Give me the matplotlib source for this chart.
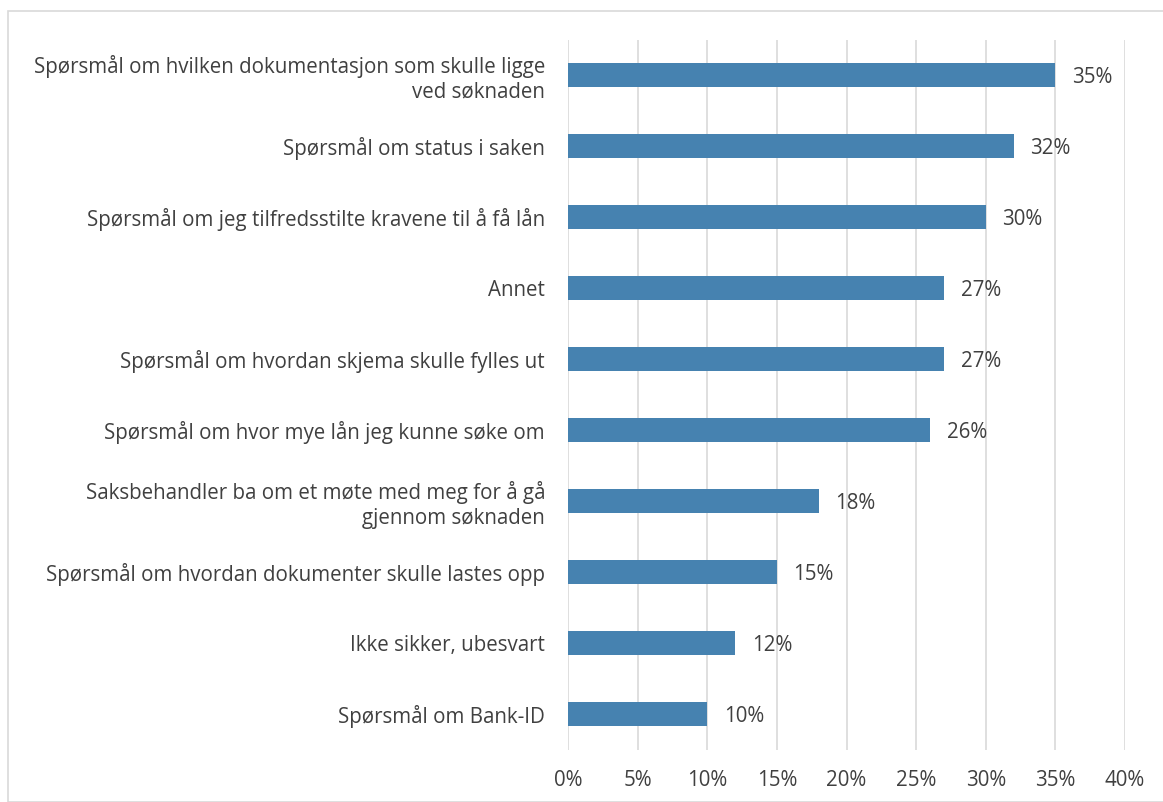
import matplotlib
matplotlib.use("Agg")
import matplotlib.pyplot as plt
from matplotlib.patches import Rectangle
from matplotlib.ticker import FuncFormatter

categories = [
    "Spørsmål om hvilken dokumentasjon som skulle ligge\nved søknaden",
    "Spørsmål om status i saken",
    "Spørsmål om jeg tilfredsstilte kravene til å få lån",
    "Annet",
    "Spørsmål om hvordan skjema skulle fylles ut",
    "Spørsmål om hvor mye lån jeg kunne søke om",
    "Saksbehandler ba om et møte med meg for å gå\ngjennom søknaden",
    "Spørsmål om hvordan dokumenter skulle lastes opp",
    "Ikke sikker, ubesvart",
    "Spørsmål om Bank-ID",
]
values = [35, 32, 30, 27, 27, 26, 18, 15, 12, 10]
xticks = [0, 5, 10, 15, 20, 25, 30, 35, 40]

plt.rcParams['font.family'] = ['Open Sans', 'DejaVu Sans']
text_color = "#404040"
bar_color = "#4682B0"
fs = 14.8

W, H = 1163, 802
fig = plt.figure(figsize=(W / 100, H / 100), dpi=100)
fig.patches.append(Rectangle((8 / W, 0), 1.2, 1 - 11 / H, transform=fig.transFigure,
                             fill=False, edgecolor="#D9D9D9", linewidth=1.2))

ax = fig.add_axes([568 / W, 1 - 749.5 / H, (1125 - 568) / W, (749.5 - 39.5) / H])
n = len(categories)
ypos = list(range(n))
ax.barh(ypos, values, height=0.34, color=bar_color, zorder=3)
ax.set_ylim(n - 0.5, -0.5)
ax.set_xlim(0, 40)
ax.set_xticks(xticks)
ax.xaxis.set_major_formatter(FuncFormatter(lambda v, p: f"{int(v)}%"))
ax.set_yticks(ypos)
ax.set_yticklabels(categories, fontsize=fs, color=text_color, linespacing=1.2)
ax.tick_params(axis="y", length=0, pad=16.5)
ax.tick_params(axis="x", length=0, pad=15, labelsize=fs, labelcolor=text_color)
ax.grid(axis="x", color="#D9D9D9", linewidth=1.2, zorder=0)
for s in ax.spines.values():
    s.set_visible(False)

for y, v in zip(ypos, values):
    ax.annotate(f"{v}%", (v, y), xytext=(12, 0), textcoords="offset points",
                va="center_baseline", ha="left", fontsize=fs, color=text_color)

fig.savefig("out.png", dpi=100)
